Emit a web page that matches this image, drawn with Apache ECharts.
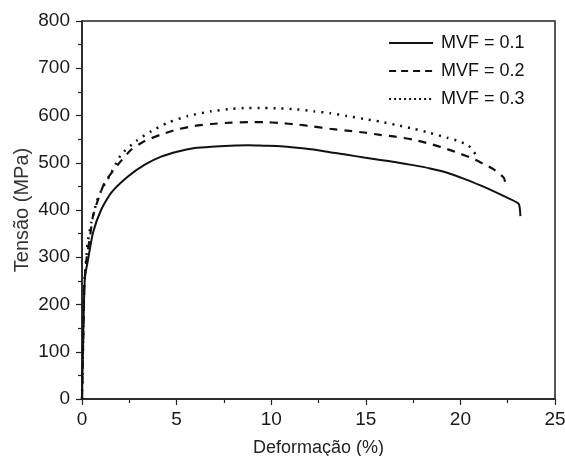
<!DOCTYPE html>
<html>
<head>
<meta charset="utf-8">
<script src="https://cdn.jsdelivr.net/npm/echarts@6/dist/echarts.min.js"></script>
<style>html,body{margin:0;padding:0;background:#fff;}#c{width:565px;height:456px;}</style>
</head>
<body>
<div id="c"></div>
<script>
const seriesNames = ['MVF = 0.1', 'MVF = 0.2', 'MVF = 0.3'];
const xTicks = [0, 5, 10, 15, 20, 25];
const yTicks = [0, 100, 200, 300, 400, 500, 600, 700, 800];

const mvf01 = [[0,0],[0.05,100],[0.1,200],[0.16,260],[0.32,295],[0.58,352],[1.02,401],[1.55,437],[2.43,471],[3.32,496],[4.18,513],[5.08,524],[5.96,531],[6.83,534],[7.83,536],[8.8,537],[9.6,536],[10.5,535],[11.36,532],[12.24,528],[13.1,522],[14.0,517],[14.9,511],[15.77,506],[16.6,501],[17.5,495],[18.4,488],[19.3,479],[20.2,466],[21.06,452],[21.8,439],[22.47,426],[23.08,413],[23.17,387]];
const mvf02 = [[0,0],[0.06,120],[0.12,240],[0.25,300],[0.4,337],[0.58,387],[0.85,422],[1.2,458],[1.9,496],[2.61,528],[3.32,546],[4.2,560],[5.08,571],[5.96,578],[6.84,582],[7.9,585],[8.8,586],[9.6,586],[10.5,584],[11.36,581],[12.2,577],[13.1,572],[14.0,568],[14.9,564],[15.77,559],[16.6,555],[17.5,549],[18.4,540],[19.3,529],[20.0,519],[20.7,508],[21.2,498],[21.76,486],[22.3,468],[22.38,454]];
const mvf03 = [[0,0],[0.06,120],[0.12,240],[0.3,330],[0.49,373],[0.8,420],[1.1,448],[1.46,472],[2.08,518],[2.87,546],[3.67,567],[4.55,585],[5.6,599],[6.84,609],[7.9,614],[8.8,616],[9.6,616],[10.5,615],[11.36,613],[12.24,609],[13.12,605],[14.0,599],[14.88,593],[15.77,587],[16.6,580],[17.5,572],[18.4,563],[19.3,553],[19.9,546],[20.44,536],[20.8,518]];

const font = 'Liberation Sans, Arial, sans-serif';
const axisCol = '#222';
const chart = echarts.init(document.getElementById('c'), null, {renderer: 'canvas'});
const styles = [
  {type: 'solid', width: 2},
  {type: [8, 7], width: 2.2},
  {type: [2, 6], width: 2.5}
];
const legendStyles = [
  {type: 'solid', width: 2},
  {type: [7, 5], width: 2.2},
  {type: [2, 3], width: 2.2}
];
chart.setOption({
  animation: false,
  grid: {left: 82, right: 10, top: 21, bottom: 57, show: true, borderColor: axisCol, borderWidth: 1.5, backgroundColor: 'transparent', containLabel: false, outerBoundsMode: 'none'},
  legend: {
    left: 383, top: 29, orient: 'vertical', itemWidth: 44, itemHeight: 14, itemGap: 10,
    textStyle: {fontFamily: font, fontSize: 18, color: '#111', padding: [0,0,0,3]},
    itemStyle: {opacity: 0, borderWidth: 0},
    data: seriesNames.map((n, i) => ({name: n, itemStyle: {opacity: 0, borderWidth: 0}, lineStyle: Object.assign({color: '#111'}, legendStyles[i])}))
  },
  xAxis: {
    type: 'value', min: xTicks[0], max: xTicks[xTicks.length - 1], interval: 5,
    name: 'Deformação (%)', nameLocation: 'middle', nameGap: 40,
    nameTextStyle: {fontFamily: font, fontSize: 18, color: '#222'},
    axisLine: {show: true, lineStyle: {color: axisCol, width: 1.5}},
    axisTick: {show: true, inside: false, length: 6, lineStyle: {color: axisCol, width: 1.2}},
    minorTick: {show: true, splitNumber: 2, length: 4, lineStyle: {color: axisCol, width: 1.2}},
    axisLabel: {fontFamily: font, fontSize: 19, color: '#1a1a1a', margin: 11},
    splitLine: {show: false}
  },
  yAxis: {
    type: 'value', min: yTicks[0], max: yTicks[yTicks.length - 1], interval: 100,
    name: 'Tensão (MPa)', nameLocation: 'middle', nameGap: 50, nameMoveOverlap: false,
    nameTextStyle: {fontFamily: font, fontSize: 20, color: '#333'},
    axisLine: {show: true, lineStyle: {color: axisCol, width: 1.5}},
    axisTick: {show: true, inside: false, length: 6, lineStyle: {color: axisCol, width: 1.2}},
    minorTick: {show: true, splitNumber: 2, length: 4, lineStyle: {color: axisCol, width: 1.2}},
    axisLabel: {fontFamily: font, fontSize: 19, color: '#1a1a1a', margin: 12},
    splitLine: {show: false}
  },
  series: [mvf01, mvf02, mvf03].map((d, i) => ({
    name: seriesNames[i], type: 'line', data: d, symbol: 'none', smooth: 0.2,
    lineStyle: Object.assign({color: '#111'}, styles[i]), z: 3 - i
  }))
});
</script>
</body>
</html>
